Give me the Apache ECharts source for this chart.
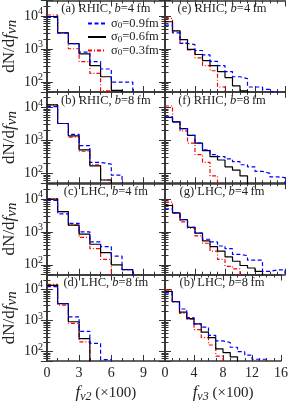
<!DOCTYPE html>
<html><head><meta charset="utf-8">
<script src="https://cdn.jsdelivr.net/npm/echarts@6/dist/echarts.min.js"></script>
<style>html,body{margin:0;padding:0;background:#fff}#c{width:291px;height:404px}</style>
</head><body><div id="c"></div>
<script>
// ---- data (bin width 1, bins start at 0) ----
const seriesNames = ['σ0=0.9fm', 'σ0=0.6fm', 'σ0=0.3fm'];
const panelLabels = [
  ['(a)', 'RHIC', '4'], ['(b)', 'RHIC', '8'], ['(c)', 'LHC', '4'], ['(d)', 'LHC', '8'],
  ['(e)', 'RHIC', '4'], ['(f)', 'RHIC', '8'], ['(g)', 'LHC', '4'], ['(b)', 'LHC', '8']
];
const v2Ticks = [0, 3, 6, 9];
const v3Ticks = [0, 4, 8, 12, 16];
// v2 panels
const aBlue = [9250, 3100, 1470, 810, 420, 250, 100, 100];
const aBlack = [9800, 3100, 1470, 720, 315, 145, 56];
const aRed = [10900, 3100, 1030, 420, 183, 54];
const bBlue = [10700, 3270, 1530, 700, 216, 190, 88];
const bBlack = [12000, 3270, 1370, 518, 170, 63];
const bRed = [12000, 3270, 1270, 470, 183, 63];
const cBlue = [9000, 3500, 1815, 1000, 493, 356, 183, 71];
const cBlack = [9800, 4130, 1610, 850, 420, 233, 100, 71];
const cRed = [10200, 4130, 1610, 675, 309, 145];
const dBlue = [12300, 3500, 1300, 450, 183, 55];
const dBlack = [13500, 3500, 910, 260];
const dRed = [14500, 3100, 810, 206];
// v3 panels
const eBlue = [5400, 3100, 1500, 1370, 910, 673, 428, 316, 209, 145, 128, 71, 71, 60, 51];
const eBlack = [6800, 3580, 1950, 980, 687, 450, 316, 209, 137, 77, 54];
const eRed = [8600, 3580, 1530, 950, 543, 316, 221, 71];
const fBlue = [5200, 3680, 2290, 1430, 830, 520, 372, 322, 274, 226, 183, 158, 115, 100, 78, 75];
const fBlack = [5000, 3680, 2290, 1430, 830, 493, 322, 255, 158, 126, 84];
const fRed = [11100, 3680, 1950, 830, 372, 216, 84];
const gBlue = [5000, 3770, 2340, 1370, 910, 597, 493, 372, 309, 206, 190, 138, 138, 63, 70, 70];
const gBlack = [6300, 3770, 2340, 1370, 910, 530, 356, 260, 175, 128, 95, 80, 63];
const gRed = [8000, 3770, 2000, 1300, 754, 450, 260, 145, 90, 75];
const hBlue = [7660, 4040, 2340, 1240, 777, 610, 332, 221, 196, 138, 100, 77, 57, 57];
const hBlack = [8600, 4040, 1850, 1150, 777, 420, 280, 123, 93, 68];
const hRed = [9670, 4040, 1700, 1100, 507, 280, 163, 72];

const panels = [
  [aBlue, aBlack, aRed], [bBlue, bBlack, bRed], [cBlue, cBlack, cRed], [dBlue, dBlack, dRed],
  [eBlue, eBlack, eRed], [fBlue, fBlack, fRed], [gBlue, gBlack, gRed], [hBlue, hBlack, hRed]
];

// ---- layout ----
const colLeft = [46.7, 165], colWidth = [118.3, 120];
const rowTop = [0.5, 91.8, 183.2, 274.5], rowH = 91.5;
const xMax = [11, 16], xInt = [3, 4], xMinor = [3, 4];
const yMin = 50, yMax = 30000;
const colors = ['#0000ff', '#000000', '#ff0000'];
const dashes = [[4, 2.5], 'solid', [4, 2, 1, 2]];
const serif = 'Liberation Serif';
const axisColor = '#333';

function steps(vals) {
  const pts = vals.map((v, i) => [i, v]);
  pts.push([vals.length, vals[vals.length - 1]]);
  pts.push([vals.length, 1]);
  return pts;
}
function yLab(v) {
  const p = Math.log10(v);
  if (Math.abs(p - Math.round(p)) > 1e-6) return '';
  return '{b|10}{s|' + Math.round(p) + '}';
}

const grids = [], xAxes = [], yAxes = [], series = [], titles = [];
for (let p = 0; p < 8; p++) {
  const col = p < 4 ? 0 : 1, row = p % 4;
  grids.push({ left: colLeft[col], top: rowTop[row], width: colWidth[col], height: rowH, show: false });
  const bottomRow = row === 3;
  const xBase = {
    type: 'value', gridIndex: p, min: 0, max: xMax[col], interval: xInt[col],
    axisLine: { show: true, onZero: false, lineStyle: { color: axisColor, width: 1.6 } },
    axisTick: { show: true, inside: true, length: 6, lineStyle: { color: axisColor, width: 1 } },
    minorTick: { show: true, splitNumber: xMinor[col], length: 3, lineStyle: { color: axisColor, width: 1 } },
    splitLine: { show: false },
  };
  xAxes.push(Object.assign({}, xBase, {
    position: 'bottom',
    axisLabel: { show: bottomRow, showMaxLabel: col === 1, fontFamily: serif, fontSize: 14, color: '#222', margin: 5,
      formatter: v => ((col === 0 ? v2Ticks : v3Ticks).indexOf(v) >= 0 ? String(v) : '') },
    name: bottomRow ? (col === 0 ? '{i|f}{sub|v2}{t| (×100)}' : '{i|f}{sub|v3}{t| (×100)}') : '',
    nameLocation: 'middle', nameGap: 22,
    nameTextStyle: { rich: {
      i: { fontFamily: serif, fontStyle: 'italic', fontSize: 17, color: '#222' },
      sub: { fontFamily: serif, fontStyle: 'italic', fontSize: 12, color: '#222', padding: [8, 0, 0, 0] },
      t: { fontFamily: serif, fontSize: 15, color: '#222' } } }
  }));
  xAxes.push(Object.assign({}, xBase, { position: 'top', axisLabel: { show: false } }));
  const yBase = {
    type: 'log', gridIndex: p, min: yMin, max: yMax, logBase: 10,
    axisLine: { show: true, lineStyle: { color: axisColor, width: 1.6 } },
    axisTick: { show: true, inside: true, length: 6, lineStyle: { color: axisColor, width: 1 } },
    minorTick: { show: true, splitNumber: 9, length: 3.5, lineStyle: { color: axisColor, width: 1 } },
    splitLine: { show: false }
  };
  yAxes.push(Object.assign({}, yBase, {
    position: 'left',
    axisLabel: { show: col === 0, showMinLabel: false, showMaxLabel: false, formatter: yLab, margin: 4,
      rich: { b: { fontFamily: serif, fontSize: 14, color: '#222' },
              s: { fontFamily: serif, fontSize: 10, color: '#222', padding: [0, 0, 9, 0] } } },
    name: col === 0 ? '{r|dN/d}{i|f}{sub|vn}' : '',
    nameLocation: 'middle', nameRotate: 90, nameGap: 24,
    nameTextStyle: { rich: {
      r: { fontFamily: serif, fontSize: 17, color: '#222' },
      i: { fontFamily: serif, fontStyle: 'italic', fontSize: 17, color: '#222' },
      sub: { fontFamily: serif, fontStyle: 'italic', fontSize: 15, color: '#222', padding: [6, 0, 0, 0] } } }
  }));
  yAxes.push(Object.assign({}, yBase, { position: 'right', axisLabel: { show: false } }));
  for (let s = 0; s < 3; s++) {
    series.push({
      type: 'line', name: seriesNames[s], xAxisIndex: 2 * p, yAxisIndex: 2 * p,
      data: steps(panels[p][s]), step: 'end', symbol: 'none', showSymbol: false, clip: true, z: 3 - s + 2,
      lineStyle: { color: colors[s], width: 1.2, type: dashes[s] }, itemStyle: { color: colors[s] }
    });
  }
  const lab = panelLabels[p];
  titles.push({
    text: '{t|' + lab[0] + ' ' + lab[1] + ', }{i|b}{t|=' + lab[2] + '\u2009fm}',
    left: colLeft[col] + colWidth[col] / 2 + (col === 1 ? -3 : 0), top: rowTop[row] + 2, textAlign: 'center',
    padding: 0,
    textStyle: { fontWeight: 'normal', rich: {
      t: { fontFamily: serif, fontSize: 12.5, fontWeight: 'normal', color: '#222' },
      i: { fontFamily: serif, fontStyle: 'italic', fontWeight: 'normal', fontSize: 12.5, color: '#222' } } }
  });
}

const chart = echarts.init(document.getElementById('c'), null, { renderer: 'canvas' });
chart.setOption({
  animation: false,
  backgroundColor: '#fff',
  title: titles,
  grid: grids, xAxis: xAxes, yAxis: yAxes, series: series,
  legend: {
    data: seriesNames, orient: 'vertical', left: 87, top: 17, itemWidth: 18, itemHeight: 9.5, itemGap: 0,
    padding: 0, selectedMode: false,
    itemStyle: { opacity: 0 },
    formatter: n => '{s|σ}{sub|0}{t|' + n.slice(2) + '}',
    textStyle: { rich: {
      s: { fontFamily: serif, fontSize: 12.5, color: '#222' },
      sub: { fontFamily: serif, fontSize: 9, color: '#222', padding: [5, 0, 0, 0] },
      t: { fontFamily: serif, fontSize: 12.5, color: '#222' } } }
  }
});
</script></body></html>
